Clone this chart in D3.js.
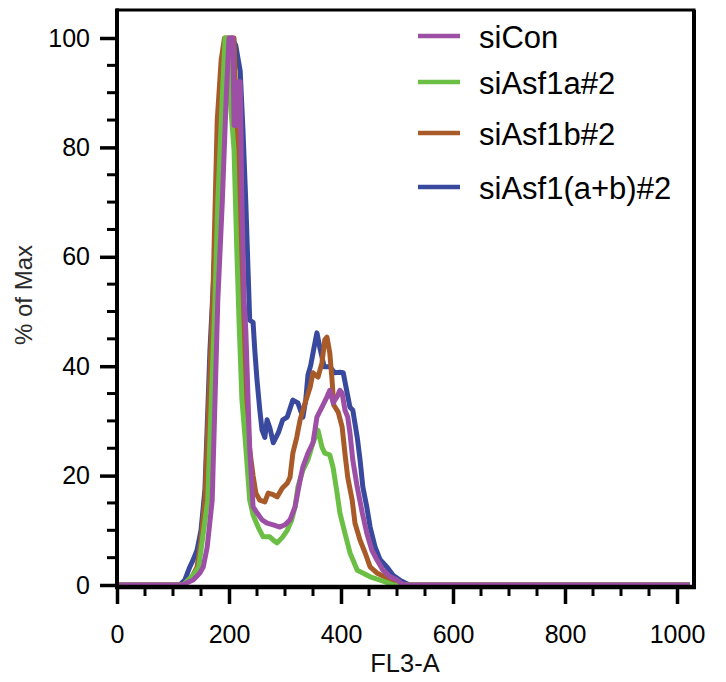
<!DOCTYPE html>
<html>
<head>
<meta charset="utf-8">
<script src="https://cdn.jsdelivr.net/npm/d3@7"></script>
<style>
  body { margin: 0; background: #fff; }
  text { font-family: "Liberation Sans", Arial, sans-serif; }
</style>
</head>
<body>
<svg class="chart"></svg>
<script>
// ---- data (FL3-A channel vs % of max) ----

const seriesNames = ["siCon", "siAsf1a#2", "siAsf1b#2", "siAsf1(a+b)#2"];
const seriesColors = ["#9d4fa5", "#6cbf45", "#a85b28", "#394a9e"];

const siCon = [
  [0, 0], [118, 0], [125, 0.4], [136, 0.9], [148, 2.2], [154, 3.3], [161, 6.9], [170, 15.5],
  [180, 52], [188, 70], [195, 89], [200, 100], [207, 100], [209, 84], [214, 84],
  [216, 92], [220, 92], [223, 70], [227, 52], [230, 46.6], [234, 34], [237, 25],
  [243, 14.3], [250, 13.2], [259, 11.9], [268, 11.3], [279, 11], [291, 10.6],
  [300, 11], [309, 11.9], [318, 14.3], [327, 19.2], [332, 21.6], [341, 24.1],
  [350, 26], [357, 30.7], [366, 32.5], [375, 34.4], [380, 35.6], [386, 33.3],
  [389, 33.8], [393, 34.4], [398, 35.6], [402, 35.1], [407, 32], [412, 30.7],
  [416, 27.8], [421, 22.9], [429, 17.9], [438, 13.2], [446, 9.5], [455, 6.4],
  [464, 4.6], [475, 2.7], [488, 1.5], [500, 0.9], [509, 0.2], [518, 0], [1023, 0]
];

const siAsf1a = [
  [0, 0], [118, 0], [136, 1.8], [146, 3.3], [162, 15.5], [175, 52], [180, 70],
  [188, 89], [193, 100], [197, 100], [202, 89], [209, 79.5], [214, 61], [218, 48],
  [223, 34], [229, 26.5], [237, 15.5], [243, 12.8], [252, 10.6], [261, 8.8],
  [273, 8.8], [279, 8.2], [286, 7.7], [296, 8.8], [304, 10], [312, 11.9],
  [318, 14.3], [323, 17.9], [332, 21], [341, 22.9], [350, 26], [359, 28.3],
  [366, 25.2], [371, 24.1], [380, 23.8], [386, 21.4], [393, 16.8], [398, 13.2],
  [407, 9.5], [416, 5.9], [429, 2.7], [439, 2.2], [452, 1.5], [470, 0.9],
  [484, 0.4], [493, 0], [1023, 0]
];

const siAsf1b = [
  [0, 0], [116, 0], [121, 0.2], [134, 1.5], [143, 3.3], [150, 8.2], [157, 15.5],
  [171, 52], [179, 85], [186, 96], [192, 100], [209, 100], [212, 89], [216, 70],
  [223, 48], [230, 34], [237, 24.7], [243, 20], [248, 16.8], [255, 15.5],
  [264, 15.2], [270, 16.8], [279, 16.5], [286, 16.1], [295, 17.7], [304, 18.6],
  [309, 19.7], [314, 24.1], [321, 27], [327, 30.2], [336, 33.3], [345, 36.2],
  [350, 38.8], [359, 38], [366, 40.6], [371, 44.8], [375, 45.3], [380, 42.4],
  [384, 37.5], [387, 32.9], [395, 31.6], [402, 28.9], [407, 24.1], [412, 19.7],
  [420, 15.5], [425, 11.3], [434, 8.2], [443, 5.9], [452, 3.3], [464, 2.2],
  [482, 1.3], [500, 0.5], [509, 0], [1023, 0]
];

const siAsf1ab = [
  [0, 0], [112, 0], [121, 0.9], [130, 3.3], [136, 4.6], [143, 6.4], [150, 10],
  [157, 17.4], [166, 43], [175, 61], [184, 79.5], [195, 96], [205, 100],
  [212, 98.7], [220, 94], [225, 83], [230, 70], [234, 57.6], [237, 48.4],
  [243, 48], [246, 43], [250, 37.5], [255, 32], [259, 28.3], [264, 27],
  [268, 30.2], [273, 28.7], [279, 26], [288, 27.8], [296, 30.2], [304, 30.7],
  [314, 33.8], [323, 33.3], [332, 30.7], [337, 33.8], [341, 38.4], [346, 40.2],
  [350, 42.4], [357, 46.1], [363, 43], [370, 39.9], [380, 39.9], [389, 38.8],
  [398, 38.9], [404, 38.8], [411, 35.1], [416, 32.5], [421, 32], [429, 27],
  [434, 22.9], [439, 17.9], [446, 14.3], [452, 10.6], [461, 6.9], [470, 4.6],
  [482, 3.3], [493, 1.8], [505, 0.9], [514, 0.4], [523, 0], [1023, 0]
];

const seriesData = [siCon, siAsf1a, siAsf1b, siAsf1ab];

const xTicks = [0, 200, 400, 600, 800, 1000];
const xMinorTicks = d3.range(0, 1001, 50);
const yTicks = [0, 20, 40, 60, 80, 100];
const yMinorTicks = d3.range(0, 101, 5);

// ---- layout ----
const W = 726, H = 682;
const svg = d3.select('.chart').attr('width', W).attr('height', H);

const x = d3.scaleLinear().domain([0, 1000]).range([117, 677]);
const y = d3.scaleLinear().domain([0, 100]).range([585, 38]);

const frameRight = 694;
const frameTop = 10;
const axisY = 587;

// ---- data lines: blue first so purple ends up on top ----
const line = d3.line()
  .x(d => x(d[0]))
  .y(d => y(d[1]))
  .curve(d3.curveLinear);

const drawOrder = [3, 2, 1, 0];
svg.append('g')
  .selectAll('path')
  .data(drawOrder)
  .join('path')
  .attr('d', i => line(seriesData[i]))
  .attr('fill', 'none')
  .attr('stroke', i => seriesColors[i])
  .attr('stroke-width', 5)
  .attr('stroke-linejoin', 'round')
  .attr('stroke-linecap', 'butt');

// ---- frame ----
const frame = svg.append('g').attr('stroke', '#000').attr('fill', 'none');
frame.append('line')  // top
  .attr('x1', 116).attr('x2', frameRight + 1.5)
  .attr('y1', frameTop).attr('y2', frameTop)
  .attr('stroke-width', 3);
frame.append('line')  // right
  .attr('x1', frameRight).attr('x2', frameRight)
  .attr('y1', frameTop).attr('y2', axisY)
  .attr('stroke-width', 4);

// ---- y axis ----
const yMajor = d3.axisLeft(y).tickValues(yTicks).tickSize(17).tickPadding(10);
const gy = svg.append('g').attr('transform', 'translate(117,0)').call(yMajor);
gy.select('.domain').remove();
gy.selectAll('.tick line').attr('stroke', '#000').attr('stroke-width', 3.5);
gy.selectAll('.tick text')
  .attr('font-size', 25)
  .attr('fill', '#000')
  .attr('font-family', '"Liberation Sans", Arial, sans-serif');

svg.append('g').attr('transform', 'translate(117,0)')
  .selectAll('line')
  .data(yMinorTicks.filter(v => !yTicks.includes(v)))
  .join('line')
  .attr('x1', -10).attr('x2', 0)
  .attr('y1', d => y(d)).attr('y2', d => y(d))
  .attr('stroke', '#000').attr('stroke-width', 3);

svg.append('line')
  .attr('x1', 117).attr('x2', 117)
  .attr('y1', frameTop - 1.5).attr('y2', axisY + 2)
  .attr('stroke', '#000').attr('stroke-width', 4);

// ---- x axis ----
const xMajor = d3.axisBottom(x).tickValues(xTicks).tickSize(17)
  .tickFormat(d3.format('d'));
const gx = svg.append('g').attr('transform', `translate(0,${axisY})`).call(xMajor);
gx.select('.domain').remove();
gx.selectAll('.tick line').attr('stroke', '#000').attr('stroke-width', 3.5);
gx.selectAll('.tick text')
  .attr('y', 56)
  .attr('dy', null)
  .attr('font-size', 25)
  .attr('fill', '#000')
  .attr('font-family', '"Liberation Sans", Arial, sans-serif');

svg.append('g').attr('transform', `translate(0,${axisY})`)
  .selectAll('line')
  .data(xMinorTicks.filter(v => !xTicks.includes(v)))
  .join('line')
  .attr('x1', d => x(d)).attr('x2', d => x(d))
  .attr('y1', 0).attr('y2', 9)
  .attr('stroke', '#000').attr('stroke-width', 3);

svg.append('line')
  .attr('x1', 115).attr('x2', frameRight + 2)
  .attr('y1', axisY).attr('y2', axisY)
  .attr('stroke', '#000').attr('stroke-width', 4.5);

// ---- axis titles ----
svg.append('text')
  .attr('x', 405).attr('y', 672)
  .attr('text-anchor', 'middle')
  .attr('font-size', 25.5)
  .attr('fill', '#111')
  .text('FL3-A');

svg.append('text')
  .attr('transform', 'translate(32,295) rotate(-90)')
  .attr('text-anchor', 'middle')
  .attr('font-size', 24)
  .attr('fill', '#2a2a2a')
  .text('% of Max');

// ---- legend ----
const legendY = [36, 82, 133, 187];
const legend = svg.append('g')
  .selectAll('g')
  .data(seriesNames)
  .join('g')
  .attr('transform', (d, i) => `translate(418,${legendY[i]})`);

legend.append('line')
  .attr('x1', 0).attr('x2', 42)
  .attr('stroke', (d, i) => seriesColors[i])
  .attr('stroke-width', 4.5);

legend.append('text')
  .attr('x', 61).attr('y', 12)
  .attr('font-size', 31)
  .attr('fill', '#000')
  .text(d => d);
</script>
</body>
</html>
